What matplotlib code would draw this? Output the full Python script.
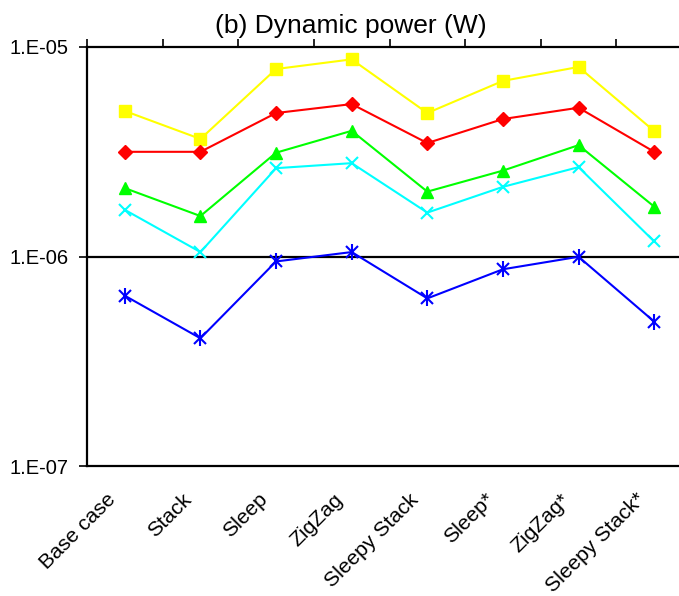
import numpy as np
import matplotlib
matplotlib.use('Agg')
import matplotlib.pyplot as plt
import matplotlib.transforms as mtransforms
from matplotlib.ticker import FixedLocator, NullLocator

plt.rcParams['font.family'] = ['Liberation Sans', 'DejaVu Sans']

# 数据
categories = ['Base case', 'Stack', 'Sleep', 'ZigZag', 'Sleepy Stack',
              'Sleep*', 'ZigZag*', 'Sleepy Stack*']
yellow_vals = [4.95e-6, 3.64e-6, 7.85e-6, 8.73e-6, 4.84e-6, 6.89e-6, 8.03e-6, 3.97e-6]
red_vals = [3.16e-6, 3.16e-6, 4.84e-6, 5.34e-6, 3.48e-6, 4.53e-6, 5.13e-6, 3.16e-6]
green_vals = [2.12e-6, 1.56e-6, 3.13e-6, 3.98e-6, 2.04e-6, 2.57e-6, 3.40e-6, 1.73e-6]
cyan_vals = [1.67e-6, 1.05e-6, 2.64e-6, 2.79e-6, 1.62e-6, 2.15e-6, 2.67e-6, 1.18e-6]
blue_vals = [6.50e-7, 4.07e-7, 9.47e-7, 1.05e-6, 6.31e-7, 8.69e-7, 9.97e-7, 4.89e-7]
ytick_vals = [1e-7, 1e-6, 1e-5]
ytick_labels = ['1.E-07', '1.E-06', '1.E-05']

W, H = 679, 596
fig = plt.figure(figsize=(W / 100, H / 100), dpi=100)
ax = fig.add_axes([87 / W, 1 - 466 / H, (692 - 87) / W, (466 - 47) / H])

x = np.arange(len(categories))
lw = 1.5
ax.plot(x, yellow_vals, color='#FFFF00', lw=lw, marker='s', ms=8, mec='#FFFF00', zorder=3)
ax.plot(x, red_vals, color='#FF0000', lw=lw, marker='D', ms=7, mec='#FF0000', zorder=3)
ax.plot(x, green_vals, color='#00FF00', lw=lw, marker='^', ms=9, mec='#00FF00', zorder=3)
ax.plot(x, cyan_vals, color='#00FFFF', lw=lw, marker='x', ms=9, mew=1.5, zorder=3)
ax.plot(x, blue_vals, color='#0000FF', lw=lw, marker='x', ms=8, mew=1.5, zorder=3)
ax.plot(x, blue_vals, color='#0000FF', lw=0, marker='|', ms=11, mew=1.5, zorder=3)

ax.set_yscale('log')
ax.set_ylim(1e-7, 1e-5)
ax.set_xlim(-0.5, len(categories) - 0.5)

ax.yaxis.set_major_locator(FixedLocator(ytick_vals))
ax.yaxis.set_minor_locator(NullLocator())
ax.set_yticklabels(ytick_labels)
ax.tick_params(axis='y', which='major', direction='out', length=6, width=1.2,
               labelsize=14.5, pad=7, colors='black')

ax.set_xticks(x)
ax.set_xticklabels(categories, rotation=45, ha='right', va='center',
                   rotation_mode='anchor', fontsize=15.2)
ax.tick_params(axis='x', which='major', length=0, pad=22)
# 标签整体左移约12像素
shift = mtransforms.ScaledTranslation(-12 / 100, 0, fig.dpi_scale_trans)
for lbl in ax.get_xticklabels():
    lbl.set_transform(lbl.get_transform() + shift)
ax.set_xticks(np.arange(-0.5, len(categories), 1.0), minor=True)
ax.tick_params(axis='x', which='minor', bottom=False, top=True,
               direction='out', length=6, width=1.2)

ax.axhline(1e-6, color='black', lw=1.6, zorder=2)
for side in ['left', 'top', 'bottom']:
    ax.spines[side].set_linewidth(1.6)
ax.spines['right'].set_visible(False)

fig.text(351 / W, 1 - 33 / H, '(b) Dynamic power (W)', ha='center', va='baseline',
         fontsize=19)

fig.savefig('out.png', dpi=100)
